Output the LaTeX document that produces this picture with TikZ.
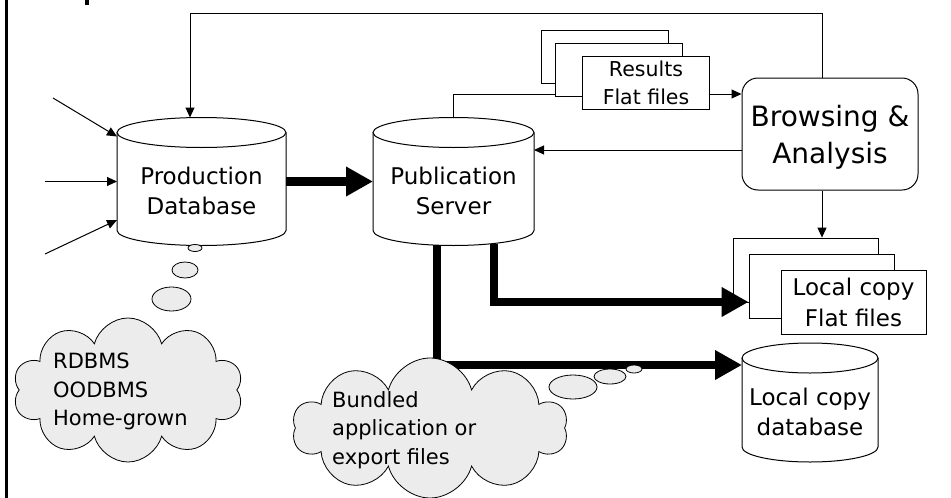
\documentclass[tikz,border=0pt]{standalone}
\usepackage{fontspec}
\setmainfont{DejaVu Sans}
\usetikzlibrary{arrows.meta,positioning,shapes.geometric,shapes.symbols}

% drum outline round a body node: name, x radius, y radius
\newcommand{\drum}[3]{%
  \draw[line width=1pt] (#1.north west) -- (#1.south west)
    arc[start angle=180,end angle=0,x radius=#2,y radius=#3] -- (#1.north east);
  \draw[line width=1pt] (#1.north) ellipse[x radius=#2,y radius=#3];
}

\begin{document}
\begin{tikzpicture}[
x=1pt,y=-1pt,
dbbody/.style={outer sep=0pt,inner sep=0pt,align=center,text height=65pt,text depth=0pt,font=\fontsize{23}{30}\selectfont},
page/.style={draw,fill=white,line width=0.8pt,minimum width=127pt,minimum height=53pt,align=center},
bubble/.style={ellipse,draw,fill=gray!15,line width=0.8pt,inner sep=0pt},
puffy/.style={cloud,cloud puffs=10,cloud ignores aspect,draw,fill=gray!15,line width=0.8pt},
arr/.style={-{Triangle[length=10pt,width=9pt]},line width=1pt},
fat/.style={-{Triangle[length=27pt,width=28pt]},line width=8.5pt}]
\useasboundingbox (0,0) rectangle (951,498);
\draw[line width=3pt] (6,0) -- (6,498);
\fill (85,0) rectangle (89,5);
\node[dbbody,minimum width=169pt,minimum height=98pt] (prod) at (201.5,181.5) {Production\\Database};
\drum{prod}{84.5}{15}
\node[dbbody,minimum width=161pt,minimum height=98pt] (pub) at (453.5,181.5) {Publication\\Server};
\drum{pub}{80.5}{15}
\node[dbbody,minimum width=136pt,minimum height=89pt] (locdb) at (810,402.5) {Local copy\\database};
\drum{locdb}{68}{15}
\node[page] (resback) at (604.5,56.5) {};
\node[page] (resmid) at (619,69.5) {};
\node[page,font=\fontsize{20.5}{28}\selectfont] (resfront) at (646,83) {Results\\Flat files};
\node[page,minimum width=145pt,minimum height=64pt] (locback) at (805.5,270) {};
\node[page,minimum width=145pt,minimum height=64pt] (locmid) at (821.5,286) {};
\node[page,minimum width=145pt,minimum height=64pt,font=\fontsize{23}{31}\selectfont] (locfront) at (853.5,302) {Local copy\\Flat files};
\node[draw,rounded corners=16pt,line width=1pt,minimum width=176pt,minimum height=112pt,align=center,text depth=0pt,font=\fontsize{28}{37}\selectfont] (browse) at (830,134) {Browsing \&\\Analysis};
\coordinate (inA) at (53,98);
\coordinate (inB) at (45,181.5);
\coordinate (inC) at (45,254);
\draw[arr] (inA) -- ([yshift=45pt]prod.west);
\draw[arr] (inB) -- (prod.west);
\draw[arr] (inC) -- ([yshift=-38.5pt]prod.west);
\draw[arr] ([xshift=-8pt]browse.north) -- ++(0,-64) -| ([xshift=-11.5pt,yshift=15pt]prod.north);
\draw[arr] ([yshift=-11pt]browse.west |- resfront.east) ++(-33,0) -- ([yshift=-11pt]browse.west |- resfront.east);
\draw ([yshift=15pt]pub.north) |- ([yshift=-24.5pt]resmid.west);
\draw[arr] ([yshift=-16pt]browse.west) -- ([yshift=-16pt]pub.east |- browse.west);
\draw[arr] ([xshift=-8pt]browse.south) -- ([xshift=-8pt]browse.south |- locback.north);
\draw[fat] (prod.east) -- (pub.west);
\draw[fat] ([xshift=40.5pt,yshift=-13pt]pub.south) |- ([yshift=-16pt]locmid.west);
\draw[fat] ([xshift=-16.5pt,yshift=-14.5pt]pub.south) |- ([yshift=-7pt]locdb.north west);
\node[puffy,minimum width=230pt,minimum height=144pt] (cloudA) at (128,390) {};
\node[anchor=north west,inner sep=0pt,align=left,font=\fontsize{21}{28.5}\selectfont] (cloudAtext) at (53,353) {RDBMS\\OODBMS\\Home-grown};
\node[bubble,minimum width=14pt,minimum height=7pt] (bubA1) at (195,248) {};
\node[bubble,minimum width=26pt,minimum height=16pt] (bubA2) at (185,270) {};
\node[bubble,minimum width=39pt,minimum height=24pt] (bubA3) at (171.5,299) {};
\node[puffy,minimum width=275pt,minimum height=140pt] (cloudB) at (430,428) {};
\node[anchor=north west,inner sep=0pt,align=left,font=\fontsize{21}{28.5}\selectfont] (cloudBtext) at (332,391) {Bundled\\application or\\export files};
\node[bubble,minimum width=48pt,minimum height=24pt] (bubB1) at (573,387) {};
\node[bubble,minimum width=32pt,minimum height=15pt] (bubB2) at (610,376.5) {};
\node[bubble,minimum width=16pt,minimum height=8pt] (bubB3) at (634,369) {};
\end{tikzpicture}
\end{document}
